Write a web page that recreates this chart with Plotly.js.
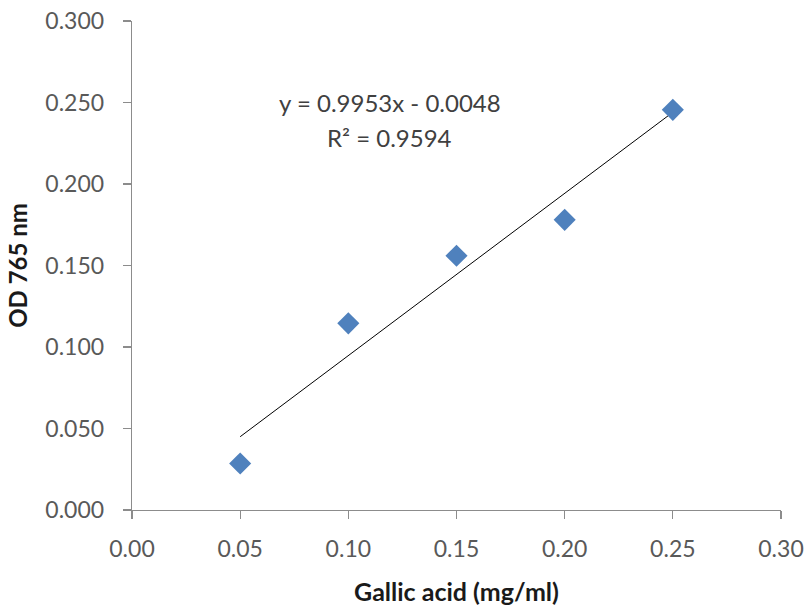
<!DOCTYPE html>
<html>
<head>
<meta charset="utf-8">
<script src="https://cdn.plot.ly/plotly-3.0.1.min.js"></script>
<style>
  html, body { margin: 0; padding: 0; background: #fff; }
  #chart { width: 808px; height: 606px; }
</style>
</head>
<body>
<div id="chart"></div>
<script>
// Gallic acid standard curve (Folin–Ciocalteu, absorbance at 765 nm)
const concentration = [0.05, 0.10, 0.15, 0.20, 0.25];   // mg/ml
const absorbance = [0.0285, 0.1145, 0.156, 0.178, 0.2455]; // OD 765 nm

// Linear trendline reported on the chart
const slope = 0.9953;
const intercept = -0.0048;
const rSquared = 0.9594;
const trendX = [concentration[0], concentration[concentration.length - 1]];
const trendY = trendX.map(x => slope * x + intercept);

const equationText = 'y = ' + slope.toFixed(4) + 'x - ' + Math.abs(intercept).toFixed(4);
const r2Text = 'R² = ' + rSquared.toFixed(4);

const font = 'Lato, "Open Sans", sans-serif';
const axisGray = '#8c8c8c';
const labelGray = '#595959';
const titleColor = '#1a1a1a';

const traces = [
  {
    x: trendX,
    y: trendY,
    type: 'scatter',
    mode: 'lines',
    line: { color: '#000000', width: 1 },
    hoverinfo: 'skip',
    showlegend: false
  },
  {
    x: concentration,
    y: absorbance,
    type: 'scatter',
    mode: 'markers',
    marker: { symbol: 'diamond', size: 17, color: '#4F81BD', line: { width: 0 } },
    showlegend: false
  }
];

const layout = {
  width: 808,
  height: 606,
  margin: { l: 132, r: 27, t: 21, b: 96 },
  paper_bgcolor: '#ffffff',
  plot_bgcolor: '#ffffff',
  showlegend: false,
  font: { family: font, color: labelGray, size: 23 },
  xaxis: {
    range: [0, 0.30],
    dtick: 0.05,
    tick0: 0,
    tickformat: '.2f',
    showgrid: false,
    zeroline: false,
    showline: true,
    linecolor: axisGray,
    linewidth: 1.3,
    ticks: 'outside',
    ticklen: 8,
    tickwidth: 1.3,
    tickcolor: axisGray,
    ticklabelstandoff: 10,
    tickfont: { family: font, size: 23, color: labelGray },
    title: {
      text: '<b>Gallic acid (mg/ml)</b>',
      font: { family: font, size: 25, color: titleColor },
      standoff: 22
    }
  },
  yaxis: {
    range: [0, 0.30],
    dtick: 0.05,
    tick0: 0,
    tickformat: '.3f',
    showgrid: false,
    zeroline: false,
    showline: true,
    linecolor: axisGray,
    linewidth: 1.3,
    ticks: 'outside',
    ticklen: 8,
    tickwidth: 1.3,
    tickcolor: axisGray,
    ticklabelstandoff: 14,
    tickfont: { family: font, size: 23, color: labelGray },
    title: {
      text: '<b>OD 765 nm</b>',
      font: { family: font, size: 24, color: titleColor },
      standoff: 11
    }
  },
  annotations: [
    {
      x: 0.1192, y: 0.2497, xref: 'x', yref: 'y',
      text: equationText, showarrow: false,
      font: { family: font, size: 24, color: '#404040' },
      xanchor: 'center', yanchor: 'middle'
    },
    {
      x: 0.1192, y: 0.2288, xref: 'x', yref: 'y',
      text: r2Text, showarrow: false,
      font: { family: font, size: 24, color: '#404040' },
      xanchor: 'center', yanchor: 'middle'
    }
  ]
};

Plotly.newPlot('chart', traces, layout, { displayModeBar: false, staticPlot: true });
</script>
</body>
</html>
